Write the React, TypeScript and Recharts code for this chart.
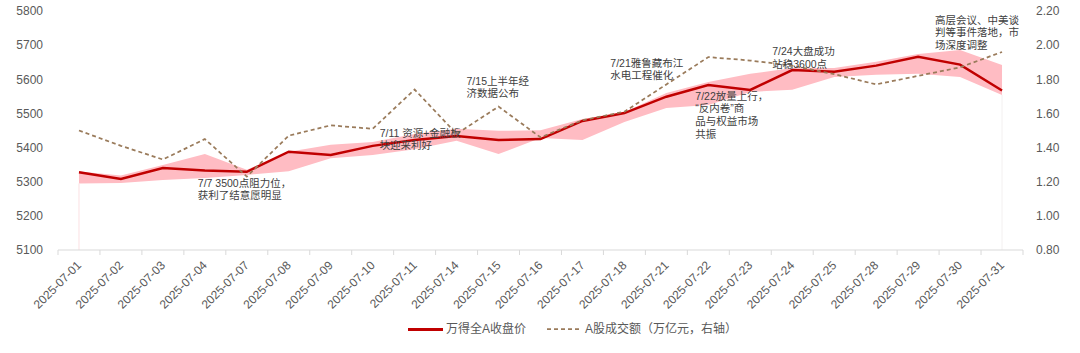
import React from 'react';
import {
  ComposedChart, Line, Area, XAxis, YAxis, ReferenceDot, ReferenceLine,
} from 'recharts';

const dates = [
  '2025-07-01', '2025-07-02', '2025-07-03', '2025-07-04', '2025-07-07', '2025-07-08',
  '2025-07-09', '2025-07-10', '2025-07-11', '2025-07-14', '2025-07-15', '2025-07-16',
  '2025-07-17', '2025-07-18', '2025-07-21', '2025-07-22', '2025-07-23', '2025-07-24',
  '2025-07-25', '2025-07-28', '2025-07-29', '2025-07-30', '2025-07-31',
];
const closePrice = [
  5328, 5308, 5340, 5333, 5329, 5388, 5378, 5405, 5422, 5434, 5422, 5425,
  5478, 5501, 5549, 5583, 5569, 5627, 5622, 5640, 5666, 5643, 5567,
];
const turnover = [
  1.50, 1.41, 1.33, 1.45, 1.23, 1.47, 1.53, 1.51, 1.74, 1.48, 1.64, 1.46,
  1.56, 1.61, 1.77, 1.93, 1.91, 1.88, 1.83, 1.77, 1.82, 1.87, 1.96,
];
const bandLow = [
  5295, 5296, 5305, 5311, 5320, 5331, 5369, 5378, 5395, 5420, 5381, 5428,
  5422, 5475, 5516, 5525, 5563, 5569, 5607, 5613, 5616, 5607, 5554,
];
const bandHigh = [
  5330, 5318, 5349, 5381, 5335, 5388, 5408, 5416, 5440, 5455, 5449, 5451,
  5484, 5504, 5560, 5592, 5616, 5633, 5633, 5651, 5674, 5686, 5642,
];
const leftTicks = [5100, 5200, 5300, 5400, 5500, 5600, 5700, 5800];
const rightTicks = [0.8, 1.0, 1.2, 1.4, 1.6, 1.8, 2.0, 2.2];

const annDates = ['2025-07-07', '2025-07-11', '2025-07-15', '2025-07-21', '2025-07-22', '2025-07-24', '2025-07-29'];
const annValues = [5296, 5443, 5595, 5648, 5551, 5681, 5774];
const annLines = [
  ['7/7 3500点阻力位，', '获利了结意愿明显'],
  ['7/11 资源+金融板', '块迎来利好'],
  ['7/15上半年经', '济数据公布'],
  ['7/21雅鲁藏布江', '水电工程催化'],
  ['7/22放量上行，', '“反内卷”商', '品与权益市场', '共振'],
  ['7/24大盘成功', '站稳3600点'],
  ['高层会议、中美谈', '判等事件落地，市', '场深度调整'],
];
const annDx = [-49, -35, -32, -56, -13, -20, 17];

const data = dates.map((d, i) => ({
  date: d,
  close: closePrice[i],
  turnover: turnover[i],
  band: [bandLow[i], bandHigh[i]],
}));

const W = 1080;
const H = 353;
const LEFT_W = 58;
const RIGHT_W = 57;
const PLOT_W = W - LEFT_W - RIGHT_W;
const BAND = PLOT_W / dates.length;
const TICK_MARGIN = 6;
const FONT = '"Liberation Sans", Arial, "Noto Sans CJK SC", sans-serif';
const AXIS_COLOR = '#d9d9d9';
const TEXT_COLOR = '#595959';

const XTick = (props: any) => {
  const { x, y, payload, index } = props;
  const axisY = y - TICK_MARGIN;
  return (
    <g>
      <line x1={x - BAND / 2} x2={x - BAND / 2} y1={axisY} y2={axisY + 5} stroke={AXIS_COLOR} />
      {index === dates.length - 1 && (
        <line x1={x + BAND / 2} x2={x + BAND / 2} y1={axisY} y2={axisY + 5} stroke={AXIS_COLOR} />
      )}
      <text
        transform={`translate(${x + 3},${axisY + 16}) rotate(-45)`}
        textAnchor="end"
        fontSize={12}
        fill={TEXT_COLOR}
        fontFamily={FONT}
      >
        {payload.value}
      </text>
    </g>
  );
};

const makeAnn = (i: number) => (p: any) => (
  <text x={p.cx + annDx[i]} y={p.cy} fontSize={10.5} fill="#404040" fontFamily={FONT}>
    {annLines[i].map((t, k) => (
      <tspan key={k} x={p.cx + annDx[i]} y={p.cy + k * 12.7} dy="0.35em">{t}</tspan>
    ))}
  </text>
);

export default function App() {
  return (
    <div style={{ position: 'absolute', left: 0, top: 0, width: W, height: H, background: '#fff', fontFamily: FONT }}>
      <ComposedChart width={W} height={H} data={data} margin={{ top: 11, right: 0, left: 0, bottom: 43 }}>
        <XAxis
          dataKey="date"
          scale="band"
          interval={0}
          height={60}
          tickLine={false}
          tickSize={0}
          tickMargin={TICK_MARGIN}
          axisLine={{ stroke: AXIS_COLOR }}
          tick={<XTick />}
          yAxisId="left"
        />
        <YAxis
          yAxisId="left"
          orientation="left"
          width={LEFT_W}
          domain={[5100, 5800]}
          ticks={leftTicks}
          axisLine={false}
          tickLine={false}
          tickSize={0}
          tickMargin={15}
          tick={{ fontSize: 12, fill: TEXT_COLOR, fontFamily: FONT }}
        />
        <YAxis
          yAxisId="right"
          orientation="right"
          width={RIGHT_W}
          domain={[0.8, 2.2]}
          ticks={rightTicks}
          axisLine={false}
          tickLine={false}
          tickSize={0}
          tickMargin={13}
          tickFormatter={(v: number) => v.toFixed(2)}
          tick={{ fontSize: 12, fill: TEXT_COLOR, fontFamily: FONT, textAnchor: 'start' }}
        />
        <Area
          yAxisId="left"
          dataKey="band"
          fill="#ffbcc3"
          fillOpacity={1}
          stroke="none"
          isAnimationActive={false}
          activeDot={false}
        />
        <ReferenceLine
          yAxisId="left"
          segment={[{ x: dates[0], y: 5100 }, { x: dates[0], y: bandLow[0] }]}
          stroke="#fbe0e3"
        />
        <ReferenceLine
          yAxisId="left"
          segment={[{ x: dates[dates.length - 1], y: 5100 }, { x: dates[dates.length - 1], y: bandLow[dates.length - 1] }]}
          stroke="#f3f0f0"
        />
        <Line
          yAxisId="left"
          dataKey="close"
          stroke="#c00000"
          strokeWidth={2.5}
          dot={false}
          isAnimationActive={false}
        />
        <Line
          yAxisId="right"
          dataKey="turnover"
          stroke="#9a7b5b"
          strokeWidth={1.75}
          strokeDasharray="4 3"
          dot={false}
          isAnimationActive={false}
        />
        {annDates.map((d, i) => (
          <ReferenceDot
            key={i}
            yAxisId="left"
            x={d}
            y={annValues[i]}
            r={1}
            shape={makeAnn(i)}
          />
        ))}
      </ComposedChart>
      <div style={{ position: 'absolute', top: 320, left: 0, width: W, height: 18, fontSize: 12, color: TEXT_COLOR }}>
        <div style={{ position: 'absolute', left: 408, top: 8, width: 35, height: 3, background: '#c00000' }} />
        <span style={{ position: 'absolute', left: 446, top: 1, whiteSpace: 'nowrap', lineHeight: '16px' }}>万得全A收盘价</span>
        <svg style={{ position: 'absolute', left: 547, top: 4 }} width={34} height={10}>
          <line x1={0} x2={34} y1={5} y2={5} stroke="#9a7b5b" strokeWidth={1.75} strokeDasharray="4 3" />
        </svg>
        <span style={{ position: 'absolute', left: 585, top: 1, whiteSpace: 'nowrap', lineHeight: '16px' }}>A股成交额（万亿元，右轴）</span>
      </div>
    </div>
  );
}
